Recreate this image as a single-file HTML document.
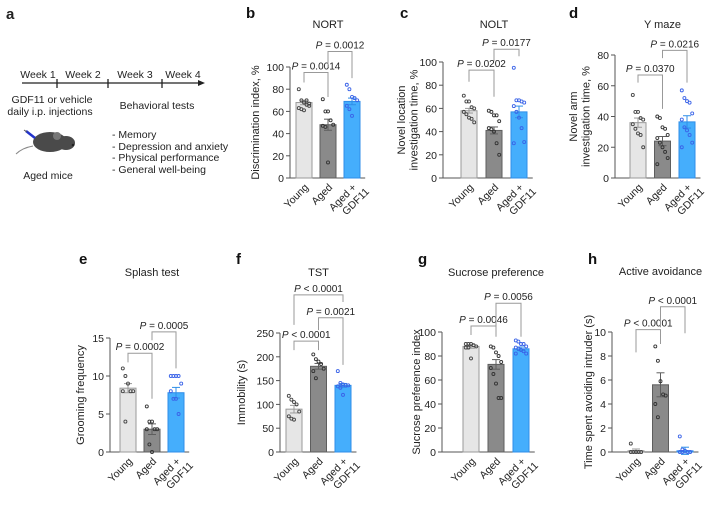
<!DOCTYPE html>
<html><head><meta charset="utf-8">
<style>
body{margin:0;background:#fff;width:709px;height:506px;overflow:hidden}
svg{font-family:"Liberation Sans",sans-serif}
</style></head><body>
<svg id="fig" width="709" height="506" viewBox="0 0 709 506" xmlns="http://www.w3.org/2000/svg">
<g font-size="10.5" fill="#222">
<text x="6" y="19" font-size="15" font-weight="bold">a</text>
<line x1="22" y1="83" x2="200" y2="83" stroke="#222" stroke-width="1.3"/>
<polygon points="198,80 205,83 198,86" fill="#222"/>
<line x1="57" y1="79" x2="57" y2="88" stroke="#222" stroke-width="1.3"/>
<line x1="108" y1="79" x2="108" y2="88" stroke="#222" stroke-width="1.3"/>
<line x1="162" y1="79" x2="162" y2="88" stroke="#222" stroke-width="1.3"/>
<text x="38" y="78" text-anchor="middle">Week 1</text>
<text x="83" y="78" text-anchor="middle">Week 2</text>
<text x="135" y="78" text-anchor="middle">Week 3</text>
<text x="183" y="78" text-anchor="middle">Week 4</text>
<text x="52" y="103" text-anchor="middle">GDF11 or vehicle</text>
<text x="50" y="115" text-anchor="middle">daily i.p. injections</text>
<text x="157" y="109" text-anchor="middle">Behavioral tests</text>
<text x="112" y="138">- Memory</text>
<text x="112" y="150">- Depression and anxiety</text>
<text x="112" y="161">- Physical performance</text>
<text x="112" y="173">- General well-being</text>
<g>
<ellipse cx="50" cy="142" rx="17" ry="10" fill="#4a4a4a"/>
<ellipse cx="66" cy="143" rx="9" ry="7" fill="#4a4a4a"/>
<circle cx="57" cy="136" r="4" fill="#777"/>
<circle cx="73" cy="145" r="1.3" fill="#222"/>
<path d="M33 146 Q22 148 16 154" stroke="#888" stroke-width="1" fill="none"/>
<line x1="26" y1="131" x2="35" y2="138" stroke="#2233cc" stroke-width="2.5"/>
<line x1="24" y1="130" x2="27" y2="132" stroke="#555" stroke-width="1"/>
</g>
<text x="48" y="179" text-anchor="middle">Aged mice</text>
</g>
<g id="panels"></g>
</svg>
<script>
// ---- data ----
const groups = ["Young","Aged","Aged +|GDF11"];
const bMeans=[68,48,69], bSem=[2,5,3];
const bYoung=[80,70,68,66,65,63,62,61,70,67], bAged=[71,60,60,52,48,47,46,14], bGdf=[84,80,73,72,70,65,62,56];
const cMeans=[58,41,57], cSem=[2,3,5];
const cYoung=[71,66,66,61,60,57,55,52,51,48], cAged=[58,57,54,54,49,43,42,40,30,20], cGdf=[95,67,67,66,65,62,57,52,43,31,30];
const dMeans=[36,24,36.5], dSem=[3,3,4];
const dYoung=[54,43,43,39,38,35,32,29,28,20], dAged=[40,39,33,32,28,26,23,20,17,13,9], dGdf=[57,52,50,49,42,38,33,31,28,23,20];
const eMeans=[8.4,3,7.8], eSem=[0.6,0.7,0.7];
const eYoung=[11,10,9,8,8,8,4], eAged=[6,4,4,3,3,3,1,0], eGdf=[10,10,10,10,9,8,7,7,5];
const fMeans=[90,180,140], fSem=[8,6,4];
const fYoung=[118,110,105,100,85,75,70,68], fAged=[205,195,190,185,175,170,155], fGdf=[170,145,142,140,140,138,135,120];
const gMeans=[88,73,86], gSem=[1.5,4,1.5];
const gYoung=[90,90,90,89,88,87,87,78], gAged=[88,87,83,80,75,70,65,57,45,45], gGdf=[93,92,90,90,88,87,86,85,84,82,82];
const hMeans=[0.1,5.6,0.1], hSem=[0.15,1,0.3];
const hYoung=[0.7,0,0,0,0,0], hAged=[8.8,7.6,5.9,4.8,4.7,4,2.9], hGdf=[1.3,0.2,0.1,0,0,0,0];
const bTicks=[0,20,40,60,80,100], cTicks=[0,20,40,60,80,100], dTicks=[0,20,40,60,80];
const eTicks=[0,5,10,15], fTicks=[0,50,100,150,200,250], gTicks=[0,20,40,60,80,100], hTicks=[0,2,4,6,8,10];
// brackets: [i,j,level,legI,legJ,label]
const bBr=[[0,1,95,86,73,"0.0014","="],[1,2,114,100,90,"0.0012","="]];
const cBr=[[0,1,93,83,70,"0.0202","="],[1,2,111,101,105,"0.0177","="]];
const dBr=[[0,1,67,62,45,"0.0370","="],[1,2,83,78,62,"0.0216","="]];
const eBr=[[0,1,13,11.8,7,"0.0002","="],[1,2,15.8,14.7,11,"0.0005","="]];
const fBr=[[0,1,233,214,214,"0.0001","<"],[1,2,282,256,183,"0.0021","="],[0,2,330,267,315,"0.0001","<"]];
const gBr=[[0,1,105,97.5,96,"0.0046","="],[1,2,124,104,96,"0.0056","="]];
const hBr=[[0,1,10.2,8.3,9,"0.0001","<"],[1,2,12.1,10.4,9.9,"0.0001","<"]];

const NS="http://www.w3.org/2000/svg";
const root=document.getElementById('panels');
function mk(tag,attrs,parent,text){const e=document.createElementNS(NS,tag);for(const k in attrs)e.setAttribute(k,attrs[k]);if(text!==undefined)e.textContent=text;parent.appendChild(e);return e;}
const fills=["#e6e6e6","#8a8a8a","#45aefc"], strokes=["#9a9a9a","#5e5e5e","#2f8ee8"], dotc=["#444","#333","#3a63e8"];

function panel(cfg){
  const g=mk('g',{},root);
  
  
  const ax=cfg.ax, y0=cfg.y0, yTop=cfg.yTop, max=cfg.ticks[cfg.ticks.length-1];
  const Y=v=>y0-(v/max)*(y0-yTop);
  const X=i=>cfg.x0+i*cfg.dx;
  const lab=mk('text',{x:cfg.lx,y:cfg.ly,'font-size':15,'font-weight':'bold',fill:'#111'},g,cfg.id);
  
  
  const t=mk('text',{x:X(1),y:cfg.ty,'font-size':11,'text-anchor':'middle',fill:'#222'},g,cfg.title);
  
  
  // axes
  const ya=mk('line',{x1:ax,y1:yTop,x2:ax,y2:y0,stroke:'#555','stroke-width':1},g);
  
  
  const xa=mk('line',{x1:ax,y1:y0,x2:X(2)+cfg.dx*0.55,y2:y0,stroke:'#555','stroke-width':1},g);
  
  
  cfg.ticks.forEach(v=>{
    mk('line',{x1:ax-4,y1:Y(v),x2:ax,y2:Y(v),stroke:'#555'},g);
    const tl=mk('text',{x:ax-6,y:Y(v)+4,'font-size':10.5,'text-anchor':'end',fill:'#222'},g,v);
    
    
  });
  // y title
  const yt=mk('text',{transform:`translate(${cfg.yx},${(y0+yTop)/2}) rotate(-90)`,'font-size':11,'text-anchor':'middle',fill:'#222'},g);
  
  
  cfg.ytitle.forEach((s,k)=>mk('tspan',{x:0,dy:k?12.5:(cfg.ytitle.length>1?-6:0)},yt,s));
  // bars
  const pts=[cfg.young,cfg.aged,cfg.gdf];
  cfg.means.forEach((m,i)=>{
    const r=mk('rect',{x:X(i)-8,y:Y(m),width:16,height:y0-Y(m),fill:fills[i],stroke:strokes[i],'stroke-width':1},g);
    
    
    const s=cfg.sem[i];
    mk('line',{x1:X(i),y1:Y(m+s),x2:X(i),y2:Y(m-s),stroke:strokes[i]},g);
    mk('line',{x1:X(i)-4,y1:Y(m+s),x2:X(i)+4,y2:Y(m+s),stroke:strokes[i]},g);
    mk('line',{x1:X(i)-4,y1:Y(m-s),x2:X(i)+4,y2:Y(m-s),stroke:strokes[i]},g);
    pts[i].forEach((v,k)=>{
      const off=((k%5)-2)*2.6;
      const c=mk('circle',{cx:X(i)+off,cy:Y(v),r:1.5,fill:'none',stroke:dotc[i],'stroke-width':0.9},g);
      
      
    });
    const parts=groups[i].split('|');
    const cl=mk('text',{transform:`translate(${X(i)+5},${y0+10}) rotate(-45)`,'font-size':10.5,'text-anchor':'end',fill:'#222'},g);
    
    
    parts.forEach((p,k)=>mk('tspan',{x:k?6:0,dy:k?12:0},cl,p));
  });
  // brackets
  cfg.br.forEach(b=>{
    const [i,j,lv,li,lj,txt,op]=b;
    const p=mk('path',{d:`M${X(i)},${Y(li)}V${Y(lv)}H${X(j)}V${Y(lj)}`,fill:'none',stroke:'#999','stroke-width':1},g);
    
    
    const tx=mk('text',{x:(X(i)+X(j))/2,y:Y(lv)-3,'font-size':10,'text-anchor':'middle',fill:'#222'},g);
    
    
    mk('tspan',{'font-style':'italic'},tx,'P');
    mk('tspan',{},tx,` ${op} ${txt}`);
  });
}
panel({id:'b',title:'NORT',lx:246,ly:18,ty:28,ax:290,y0:178,yTop:67,x0:304,dx:24,ticks:bTicks,means:bMeans,sem:bSem,young:bYoung,aged:bAged,gdf:bGdf,br:bBr,yx:259,ytitle:['Discrimination index, %']});
panel({id:'c',title:'NOLT',lx:400,ly:18,ty:28,ax:443,y0:178,yTop:62,x0:469,dx:25,ticks:cTicks,means:cMeans,sem:cSem,young:cYoung,aged:cAged,gdf:cGdf,br:cBr,yx:411,ytitle:['Novel location','investigation time, %']});
panel({id:'d',title:'Y maze',lx:569,ly:18,ty:28,ax:615,y0:178,yTop:55,x0:638,dx:24.5,ticks:dTicks,means:dMeans,sem:dSem,young:dYoung,aged:dAged,gdf:dGdf,br:dBr,yx:583,ytitle:['Novel arm','investigation time, %']});
panel({id:'e',title:'Splash test',lx:79,ly:264,ty:276,ax:110,y0:452,yTop:338,x0:128,dx:24,ticks:eTicks,means:eMeans,sem:eSem,young:eYoung,aged:eAged,gdf:eGdf,br:eBr,yx:84,ytitle:['Grooming frequency']});
panel({id:'f',title:'TST',lx:236,ly:264,ty:276,ax:280,y0:452,yTop:333,x0:294,dx:24.5,ticks:fTicks,means:fMeans,sem:fSem,young:fYoung,aged:fAged,gdf:fGdf,br:fBr,yx:245,ytitle:['Immobility (s)']});
panel({id:'g',title:'Sucrose preference',lx:418,ly:264,ty:276,ax:442,y0:452,yTop:332,x0:471,dx:25,ticks:gTicks,means:gMeans,sem:gSem,young:gYoung,aged:gAged,gdf:gGdf,br:gBr,yx:420,ytitle:['Sucrose preference index']});
panel({id:'h',title:'Active avoidance',lx:588,ly:264,ty:275,ax:612,y0:452,yTop:332,x0:636,dx:24.5,ticks:hTicks,means:hMeans,sem:hSem,young:hYoung,aged:hAged,gdf:hGdf,br:hBr,yx:592,ytitle:['Time spent avoiding intruder (s)']});
</script>
</body></html>
